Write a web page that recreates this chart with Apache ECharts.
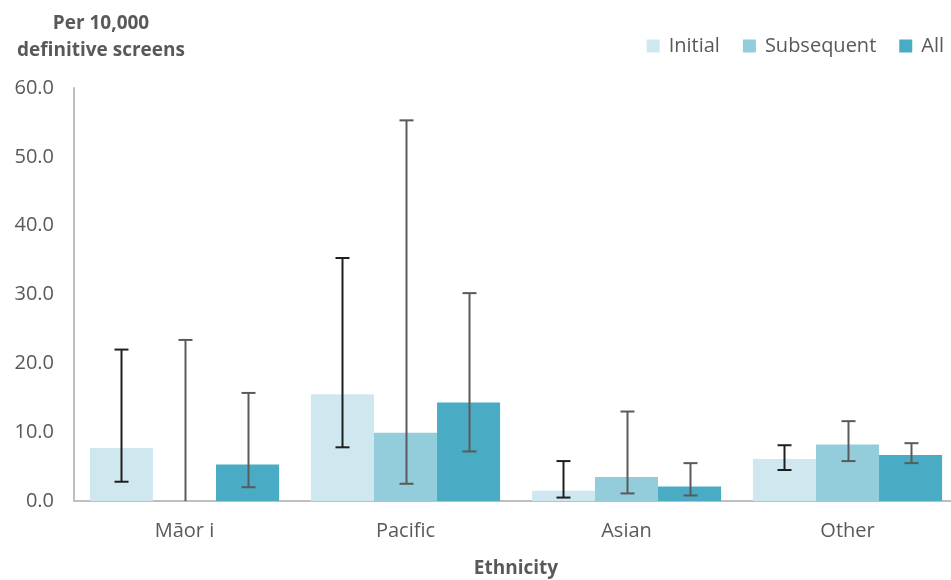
<!DOCTYPE html>
<html>
<head>
<meta charset="utf-8">
<script src="https://cdn.jsdelivr.net/npm/echarts@6/dist/echarts.min.js"></script>
<style>
  html, body { margin: 0; padding: 0; background: #fff; }
  #chart { width: 951px; height: 580px; }
</style>
</head>
<body>
<div id="chart"></div>
<script>
// Rates per 10,000 definitive screens by ethnicity, with 95% confidence intervals
const categories = ['Māor i', 'Pacific', 'Asian', 'Other'];
const seriesNames = ['Initial', 'Subsequent', 'All'];

const initialRate = [7.7, 15.5, 1.5, 6.1];
const initialLow  = [2.8, 7.8, 0.5, 4.5];
const initialHigh = [22.0, 35.3, 5.8, 8.1];

const subsequentRate = [0.0, 9.9, 3.5, 8.2];
const subsequentLow  = [0.0, 2.5, 1.1, 5.8];
const subsequentHigh = [23.4, 55.3, 13.0, 11.6];

const allRate = [5.3, 14.3, 2.1, 6.7];
const allLow  = [2.0, 7.2, 0.8, 5.5];
const allHigh = [15.7, 30.2, 5.5, 8.4];

const yTicks = [0, 10, 20, 30, 40, 50, 60];

const colors = ['#cfe8ef', '#93ccdb', '#4aabc4'];
const whiskerColors = ['#1e1e1e', '#5a5a5a', '#5a5a5a'];
const FONT = 'Open Sans';
const TEXT = '#595959';
const CATEGORY_GAP = 0.144;

const rates = [initialRate, subsequentRate, allRate];
const lows = [initialLow, subsequentLow, allLow];
const highs = [initialHigh, subsequentHigh, allHigh];

function whiskerSeries(idx) {
  const data = categories.map((c, i) => [i, lows[idx][i], highs[idx][i]]);
  return {
    type: 'custom',
    name: seriesNames[idx] + ' CI',
    z: 5,
    silent: true,
    clip: false,
    data: data,
    encode: { x: 0, y: [1, 2] },
    renderItem: function (params, api) {
      const ci = api.value(0);
      const lo = api.coord([ci, api.value(1)]);
      const hi = api.coord([ci, api.value(2)]);
      const band = api.size([1, 0])[0];
      const barW = band * (1 - CATEGORY_GAP) / 3;
      const x = Math.round(lo[0] + (idx - 1) * barW) + 0.5;
      const cap = 7;
      const style = { stroke: whiskerColors[idx], lineWidth: 2, fill: null };
      const children = [
        { type: 'line', shape: { x1: x, y1: lo[1], x2: x, y2: hi[1] }, style: style },
        { type: 'line', shape: { x1: x - cap, y1: hi[1], x2: x + cap, y2: hi[1] }, style: style }
      ];
      if (api.value(1) > 0) {
        children.push({ type: 'line', shape: { x1: x - cap, y1: lo[1], x2: x + cap, y2: lo[1] }, style: style });
      }
      return { type: 'group', children: children };
    }
  };
}

const chart = echarts.init(document.getElementById('chart'), null, { renderer: 'canvas' });

const barSeries = seriesNames.map((name, idx) => ({
  type: 'bar',
  name: name,
  data: rates[idx],
  barGap: '0%',
  barCategoryGap: (CATEGORY_GAP * 100) + '%',
  itemStyle: { color: colors[idx] },
  emphasis: { disabled: true }
}));

chart.setOption({
  animation: false,
  textStyle: { fontFamily: FONT },
  grid: { left: 74, right: -7, top: 88, bottom: 79, outerBoundsMode: 'none', containLabel: false },
  title: {
    text: 'Per 10,000\ndefinitive screens',
    left: 96,
    top: 5,
    textAlign: 'center',
    textStyle: { fontFamily: FONT, fontSize: 19, fontWeight: 'bold', color: TEXT, lineHeight: 27, align: 'center' }
  },
  legend: {
    data: seriesNames,
    right: 2,
    top: 31,
    itemWidth: 13,
    itemHeight: 13,
    itemGap: 23,
    icon: 'rect',
    textStyle: { fontFamily: FONT, fontSize: 20, color: TEXT, padding: [0, 0, 0, 4] }
  },
  xAxis: {
    type: 'category',
    data: categories,
    name: 'Ethnicity',
    nameLocation: 'middle',
    nameGap: 58,
    nameTextStyle: { fontFamily: FONT, fontSize: 19, fontWeight: 'bold', color: TEXT },
    axisLine: { lineStyle: { color: '#bfbfbf', width: 2 } },
    axisTick: { show: false },
    axisLabel: { fontFamily: FONT, fontSize: 20, color: TEXT, margin: 20 }
  },
  yAxis: {
    type: 'value',
    min: yTicks[0],
    max: yTicks[yTicks.length - 1],
    interval: yTicks[1] - yTicks[0],
    axisLine: { show: true, lineStyle: { color: '#bfbfbf', width: 2 } },
    axisTick: { show: false },
    splitLine: { show: false },
    axisLabel: {
      fontFamily: FONT, fontSize: 20, color: TEXT, margin: 20,
      formatter: v => v.toFixed(1)
    }
  },
  series: barSeries.concat([whiskerSeries(0), whiskerSeries(1), whiskerSeries(2)])
});
</script>
</body>
</html>
